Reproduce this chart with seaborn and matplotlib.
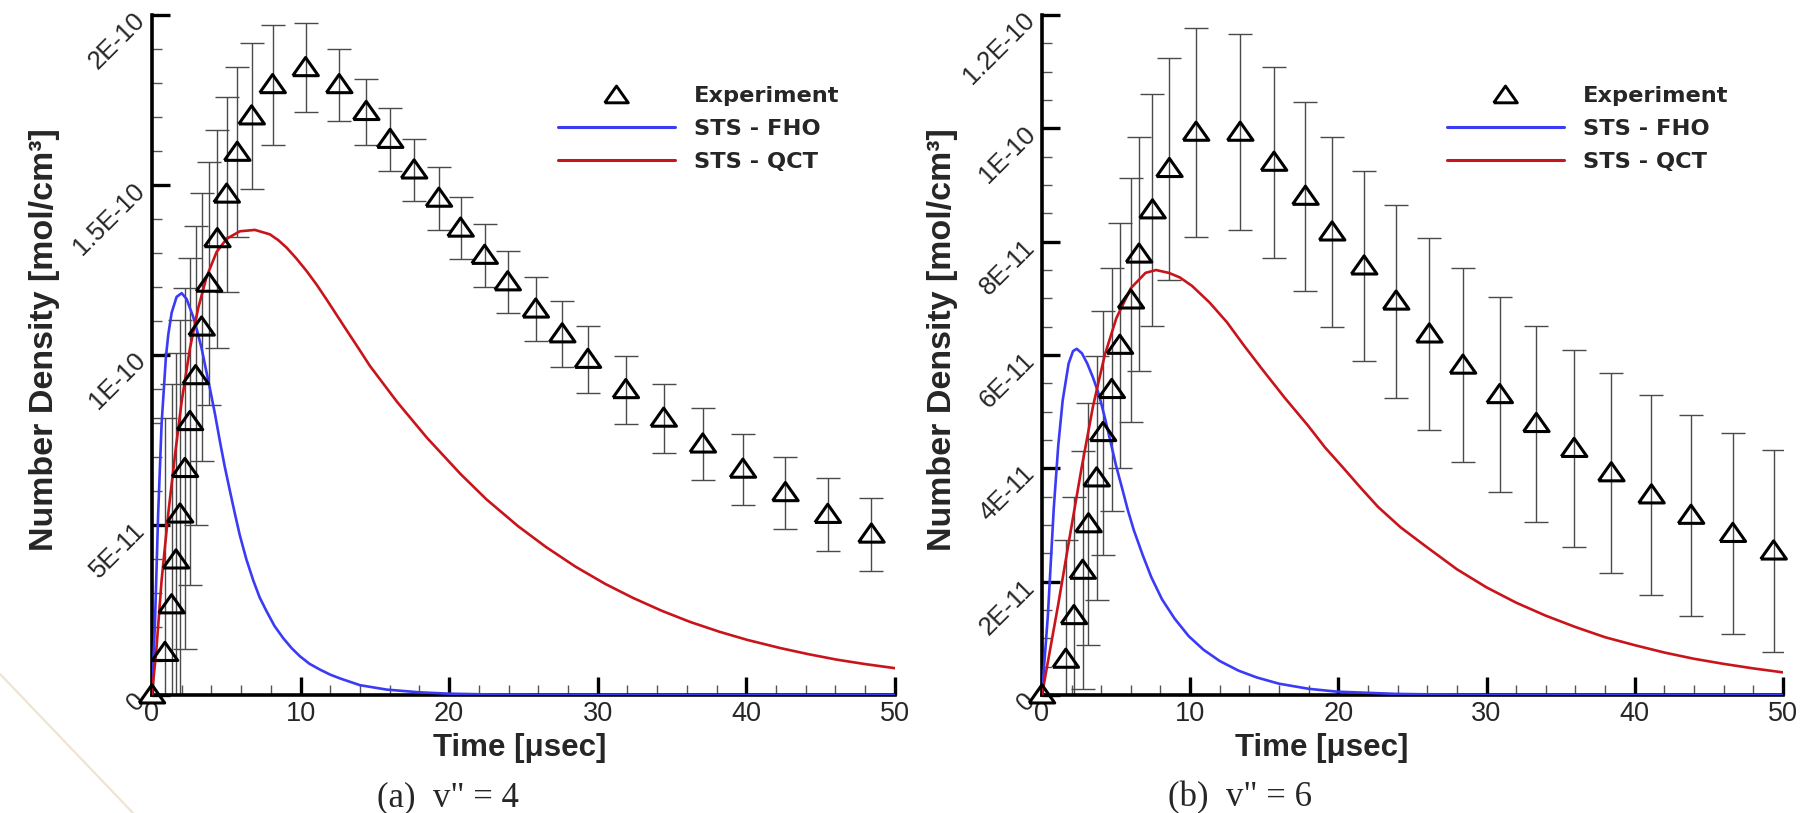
import numpy as np
import matplotlib
matplotlib.use("Agg")
import matplotlib.pyplot as plt
from matplotlib.lines import Line2D
from matplotlib.ticker import MultipleLocator
import seaborn as sns

# ---------------- data (number density in units of 1E-10 mol/cm^3) ----------------
UNIT = 1e-10

# (a) v" = 4
exp_a_t = [0, 0.875, 1.32, 1.62, 1.89, 2.22, 2.56, 2.94, 3.34, 3.84, 4.40, 5.03, 5.74,
           6.71, 8.12, 10.34, 12.6, 14.42, 16.03, 17.64, 19.31, 20.77, 22.39, 23.94,
           25.83, 27.61, 29.34, 31.89, 34.44, 37.07, 39.77, 42.63, 45.48, 48.42]
exp_a_n = [0, 0.125, 0.265, 0.397, 0.532, 0.666, 0.804, 0.939, 1.082, 1.211, 1.342,
           1.473, 1.596, 1.703, 1.795, 1.845, 1.795, 1.716, 1.634, 1.544, 1.461, 1.373,
           1.293, 1.215, 1.135, 1.062, 0.987, 0.898, 0.814, 0.738, 0.664, 0.595, 0.531,
           0.473]
exp_a_err = [0, 0.69, 0.65, 0.61, 0.57, 0.53, 0.48, 0.44, 0.395, 0.358, 0.32, 0.287,
             0.25, 0.214, 0.176, 0.131, 0.106, 0.097, 0.092, 0.092, 0.092, 0.092, 0.092,
             0.092, 0.095, 0.098, 0.099, 0.100, 0.102, 0.105, 0.105, 0.106, 0.107, 0.107]

fho_a_t = [0, 0.2, 0.42, 0.65, 0.94, 1.1, 1.33, 1.66, 2.0, 2.33, 2.78, 3.05, 3.34, 3.6,
           3.9, 4.25, 4.58, 4.9, 5.25, 5.6, 5.92, 6.35, 6.82, 7.25, 7.72, 8.25, 8.84, 9.4,
           9.96, 10.6, 11.3, 12.0, 12.65, 14.0, 15.8, 18.0, 20.0, 23.0, 26.0, 30.0, 35.0,
           40.0, 45.0, 50.0]
fho_a_n = [0, 0.206, 0.534, 0.797, 0.994, 1.06, 1.125, 1.171, 1.182, 1.165, 1.112, 1.07,
           1.02, 0.965, 0.902, 0.825, 0.745, 0.672, 0.600, 0.53, 0.469, 0.40, 0.337, 0.287,
           0.246, 0.203, 0.167, 0.138, 0.114, 0.092, 0.075, 0.06, 0.049, 0.029, 0.016,
           0.008, 0.004, 0.0015, 0.0005, 0.0001, 0, 0, 0, 0]

qct_a_t = [0, 0.31, 0.65, 1.1, 1.55, 2.0, 2.56, 3.12, 3.68, 4.35, 5.03, 5.92, 6.93, 7.94,
           8.5, 9.06, 9.7, 10.41, 11.1, 11.76, 12.4, 13.1, 13.9, 14.67, 16.5, 18.5, 20.77,
           22.5, 24.63, 26.5, 28.49, 30.5, 32.36, 34.3, 36.22, 38.2, 40.08, 42.3, 44.2,
           46.1, 48.0, 50.0]
qct_a_n = [0, 0.14, 0.337, 0.534, 0.705, 0.863, 1.02, 1.139, 1.23, 1.303, 1.342, 1.364,
           1.368, 1.355, 1.338, 1.316, 1.285, 1.247, 1.206, 1.163, 1.12, 1.073, 1.02, 0.968,
           0.862, 0.757, 0.650, 0.576, 0.497, 0.436, 0.378, 0.327, 0.286, 0.248, 0.215,
           0.186, 0.162, 0.138, 0.12, 0.104, 0.091, 0.079]

# (b) v" = 6
exp_b_t = [0, 1.61, 2.16, 2.75, 3.14, 3.69, 4.12, 4.71, 5.26, 6.00, 6.55, 7.46, 8.60,
           10.40, 13.38, 15.66, 17.78, 19.58, 21.74, 23.90, 26.14, 28.41, 30.89, 33.36,
           35.91, 38.42, 41.13, 43.80, 46.62, 49.37]
exp_b_n = [0, 0.063, 0.140, 0.220, 0.302, 0.383, 0.463, 0.539, 0.617, 0.697, 0.778,
           0.856, 0.929, 0.993, 0.993, 0.940, 0.880, 0.817, 0.757, 0.695, 0.637, 0.582,
           0.530, 0.479, 0.435, 0.392, 0.353, 0.317, 0.285, 0.254]
exp_b_err = [0, 0.21, 0.21, 0.21, 0.214, 0.215, 0.215, 0.215, 0.216, 0.216, 0.206, 0.205,
             0.196, 0.185, 0.173, 0.168, 0.167, 0.167, 0.168, 0.170, 0.170, 0.171, 0.172,
             0.173, 0.174, 0.176, 0.176, 0.178, 0.178, 0.178]

fho_b_t = [0, 0.4, 0.8, 1.1, 1.4, 1.8, 2.1, 2.35, 2.7, 3.06, 3.45, 3.85, 4.24, 4.63, 5.0,
           5.42, 5.8, 6.2, 6.8, 7.38, 8.1, 8.95, 9.9, 10.9, 12.0, 13.27, 14.5, 16.0, 18.0,
           19.9, 23.9, 29.7, 35.0, 40.0, 45.0, 50.0]
fho_b_n = [0, 0.14, 0.33, 0.44, 0.52, 0.585, 0.607, 0.611, 0.603, 0.585, 0.56, 0.53, 0.49,
           0.447, 0.405, 0.364, 0.326, 0.291, 0.247, 0.208, 0.169, 0.135, 0.104, 0.080,
           0.06, 0.043, 0.031, 0.020, 0.011, 0.006, 0.002, 0, 0, 0, 0, 0]

qct_b_t = [0, 1.1, 1.88, 2.67, 3.45, 4.24, 5.02, 6.0, 6.99, 7.7, 8.56, 9.3, 10.13, 11.3,
           12.48, 13.6, 14.83, 16.4, 17.97, 19.1, 20.33, 21.5, 22.68, 24.2, 25.82, 28.0,
           30.0, 32.0, 34.0, 36.0, 38.0, 40.0, 42.0, 44.0, 46.0, 48.0, 50.0]
qct_b_n = [0, 0.16, 0.28, 0.40, 0.51, 0.60, 0.665, 0.718, 0.745, 0.750, 0.745, 0.737,
           0.722, 0.693, 0.658, 0.618, 0.576, 0.524, 0.475, 0.437, 0.401, 0.366, 0.332,
           0.296, 0.264, 0.222, 0.19, 0.163, 0.14, 0.12, 0.102, 0.088, 0.075, 0.064,
           0.055, 0.047, 0.040]

yticks_a = [0, 0.5, 1.0, 1.5, 2.0]
yticklabels_a = ["0", "5E-11", "1E-10", "1.5E-10", "2E-10"]
yticks_b = [0, 0.2, 0.4, 0.6, 0.8, 1.0, 1.2]
yticklabels_b = ["0", "2E-11", "4E-11", "6E-11", "8E-11", "1E-10", "1.2E-10"]
xticks = [0, 10, 20, 30, 40, 50]

legend_labels = ["Experiment", "STS - FHO", "STS - QCT"]
captions = ['(a)  v" = 4', '(b)  v" = 6']

# ---------------- style ----------------
sns.set_theme(style="ticks")
plt.rcParams["font.family"] = ["Liberation Sans", "DejaVu Sans"]

BLUE = "#3b3bf5"
RED = "#c8141a"

# open triangle, slightly wider than tall
TRI = [(-1.0, -0.62), (1.0, -0.62), (0.0, 0.80), (-1.0, -0.62)]

fig = plt.figure(figsize=(18.13, 8.13), dpi=100)
ax_a = fig.add_axes([0.0838, 0.1451, 0.4098, 0.8364])
ax_b = fig.add_axes([0.5747, 0.1451, 0.4087, 0.8364])

# faint diagonal stroke in the lower-left margin of the page
fig.add_artist(Line2D([0, 133 / 1813], [1 - 674 / 813, 0], color="#efe4d2", lw=1.6))


def draw_panel(ax, et, en, ee, ft, fn, qt, qn, ymax, yminor, yt, ytl,
               ylab_x, xlab_x):
    et = np.asarray(et)
    en = np.asarray(en) * UNIT
    ee = np.asarray(ee) * UNIT
    ax.errorbar(et, en, yerr=ee, fmt="none", ecolor="#4a4a4a", elinewidth=1.0,
                capsize=8.5, capthick=1.0, zorder=2)
    sns.lineplot(x=ft, y=np.asarray(fn) * UNIT, ax=ax, color=BLUE, lw=1.9,
                 sort=False, estimator=None, zorder=3)
    sns.lineplot(x=qt, y=np.asarray(qn) * UNIT, ax=ax, color=RED, lw=1.9,
                 sort=False, estimator=None, zorder=3)
    sns.scatterplot(x=et, y=en, ax=ax, marker=TRI, s=340, facecolor="none",
                    edgecolor="black", linewidth=2.2, zorder=4, clip_on=False)

    ax.set_xlim(0, 50)
    ax.set_ylim(0, ymax * UNIT)
    for side in ("top", "right"):
        ax.spines[side].set_visible(False)
    for side in ("left", "bottom"):
        ax.spines[side].set_linewidth(2.6)
        ax.spines[side].set_color("black")

    ax.set_xticks(xticks, [str(v) for v in xticks])
    ax.xaxis.set_minor_locator(MultipleLocator(2))
    ax.set_yticks(np.asarray(yt) * UNIT, ytl)
    ax.yaxis.set_minor_locator(MultipleLocator(yminor * UNIT))
    ax.tick_params(which="major", direction="in", length=13, width=2.4, color="black")
    ax.tick_params(which="minor", direction="in", length=7, width=1.0, color="#555555")
    ax.tick_params(axis="x", which="major", labelsize=19.5, pad=4)
    ax.tick_params(axis="y", which="major", labelsize=18.5, pad=9)
    for lab in ax.get_yticklabels():
        lab.set_rotation(45)
        lab.set_rotation_mode("anchor")
        lab.set_ha("right")
        lab.set_va("center_baseline")

    ax.set_xlabel("Time [μsec]", fontsize=22.5, fontweight="bold")
    ax.xaxis.set_label_coords(xlab_x, -0.056)
    ax.set_ylabel("Number Density [mol/cm³]", fontsize=24.5, fontweight="bold")
    ax.yaxis.set_label_coords(ylab_x, 0.522)

    handles = [
        Line2D([], [], ls="none", marker=TRI, ms=17, mfc="none", mec="black", mew=2.1),
        Line2D([], [], color=BLUE, lw=2.2),
        Line2D([], [], color=RED, lw=2.2),
    ]
    ax.legend(handles, legend_labels, loc="upper left", bbox_to_anchor=(0.546, 0.895),
              frameon=False, borderpad=0, borderaxespad=0, handlelength=5.2,
              handletextpad=0.85, labelspacing=0.56,
              prop={"family": "DejaVu Sans", "weight": "bold", "size": 16.2})


draw_panel(ax_a, exp_a_t, exp_a_n, exp_a_err, fho_a_t, fho_a_n, qct_a_t, qct_a_n,
           2.0, 0.1, yticks_a, yticklabels_a, -0.124, 0.495)
draw_panel(ax_b, exp_b_t, exp_b_n, exp_b_err, fho_b_t, fho_b_n, qct_b_t, qct_b_n,
           1.2, 0.05, yticks_b, yticklabels_b, -0.113, 0.378)

fig.text(448 / 1813, 1 - 798 / 813, captions[0], ha="center", va="center",
         family="Liberation Serif", fontsize=25)
fig.text(1240 / 1813, 1 - 798 / 813, captions[1], ha="center", va="center",
         family="Liberation Serif", fontsize=25)

fig.savefig("out.png", dpi=100, facecolor="white")
